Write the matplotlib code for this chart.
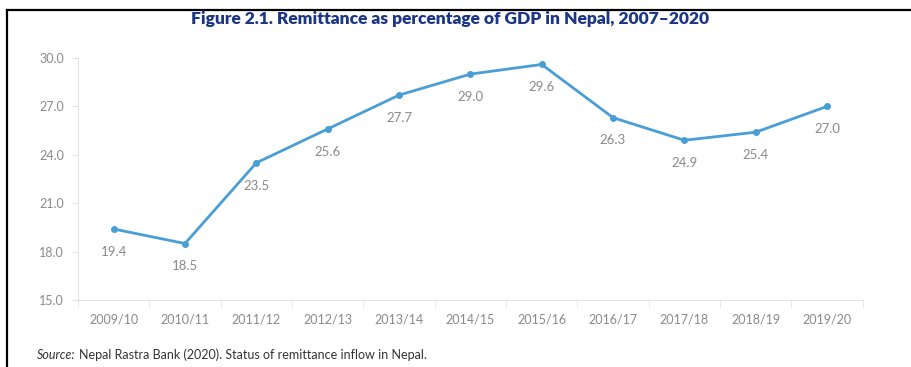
import matplotlib.pyplot as plt
from matplotlib.lines import Line2D

years = ["2009/10", "2010/11", "2011/12", "2012/13", "2013/14", "2014/15",
         "2015/16", "2016/17", "2017/18", "2018/19", "2019/20"]
remit = [19.4, 18.5, 23.5, 25.6, 27.7, 29.0, 29.6, 26.3, 24.9, 25.4, 27.0]

plt.rcParams["font.family"] = ["Lato", "DejaVu Sans"]

fg = plt.figure(figsize=(9.12, 3.67), dpi=100)
ax = fg.add_axes([0.0855, 0.1826, 0.8605, 0.6594])

x = list(range(len(years)))
ax.plot(x, remit, c="#4a9ed6", lw=2, marker="o", ms=4)
for xi, v in zip(x, remit):
    ax.annotate(f"{v:.1f}", xy=(xi, v), xytext=(0, -12), textcoords="offset points",
                ha="center", va="top", fontsize=9.5, color="#8a8a8a")

ax.set_xlim(-0.5, len(years) - 0.5)
ax.set_ylim(15, 30)
ax.set_yticks([15, 18, 21, 24, 27, 30])
ax.set_yticklabels([f"{t:.1f}" for t in [15, 18, 21, 24, 27, 30]])
ax.set_xticks(x)
ax.set_xticklabels(years)
ax.set_xticks([i + 0.5 for i in range(-1, len(years))], minor=True)

for s in ["top", "right"]:
    ax.spines[s].set_visible(False)
for s in ["left", "bottom"]:
    ax.spines[s].set_color("#e2e2e2")
ax.tick_params(axis="x", which="major", length=0, pad=10, labelsize=9, labelcolor="#8a8a8a")
ax.tick_params(axis="x", which="minor", length=5, color="#e2e2e2")
ax.tick_params(axis="y", length=4, color="#e2e2e2", labelsize=9, labelcolor="#8a8a8a", pad=6)

fg.text(0.493, 0.948, "Figure 2.1. Remittance as percentage of GDP in Nepal, 2007–2020",
        ha="center", va="center", fontsize=12.5, fontweight="heavy", color="#1b3587")

# source line: italic label followed by plain text
src = fg.text(0.041, 0.033, "Source:", ha="left", va="center", fontsize=9,
              style="italic", color="#333333")
ax.annotate("Nepal Rastra Bank (2020). Status of remittance inflow in Nepal.",
            xy=(1, 0.5), xycoords=src, xytext=(2.5, 0), textcoords="offset points",
            ha="left", va="center", fontsize=9, color="#333333", annotation_clip=False)

# frame
fg.add_artist(Line2D([0.008, 1.0], [0.973, 0.973], color="black", lw=1.6))
fg.add_artist(Line2D([0.008, 0.008], [0.0, 0.973], color="black", lw=1.6))

fg.savefig("out.png", dpi=100)
